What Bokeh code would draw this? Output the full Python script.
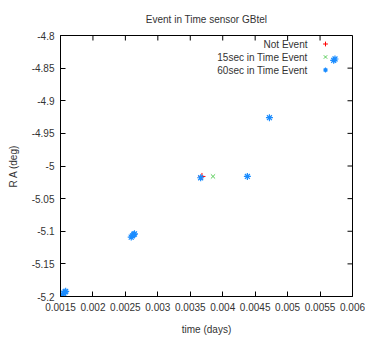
from bokeh.plotting import figure
from bokeh.models import (LinearAxis, FixedTicker, CustomJSTickFormatter, Range1d,
                          Legend, LegendItem, Label)
from bokeh.core.properties import value
from bokeh.embed import file_html
from bokeh.resources import INLINE

# data
not_event_t = [0.00368]
not_event_ra = [-5.016]
sec15_t = [0.00385]
sec15_ra = [-5.016]
sec60_t = [0.00153, 0.00155, 0.00157, 0.00158,
           0.00259, 0.00261, 0.00263, 0.00264,
           0.00366, 0.00438, 0.00472, 0.00571, 0.00573]
sec60_ra = [-5.197, -5.195, -5.193, -5.192,
            -5.109, -5.107, -5.105, -5.104,
            -5.018, -5.016, -4.926, -4.838, -4.836]
x_ticks = [0.0015, 0.002, 0.0025, 0.003, 0.0035, 0.004, 0.0045, 0.005, 0.0055, 0.006]
y_ticks = [-5.2, -5.15, -5.1, -5.05, -5.0, -4.95, -4.9, -4.85, -4.8]
series_names = ["Not Event", "15sec in Time Event", "60sec in Time Event"]

FONT = "Liberation Sans"
TXT = "#333333"
W, H = 365, 345
ML, MR, MT, MB = 60, 13, 35, 49
FW, FH = W - ML - MR, H - MT - MB

xmin, xmax = x_ticks[0], x_ticks[-1]
ymin, ymax = y_ticks[0], y_ticks[-1]

p = figure(width=W, height=H, output_backend="svg", toolbar_location=None,
           x_range=Range1d(xmin, xmax), y_range=Range1d(ymin, ymax),
           min_border_left=ML, min_border_right=MR, min_border_top=MT,
           min_border_bottom=MB, x_axis_type=None, y_axis_type=None,
           title="Event in Time sensor GBtel")
p.background_fill_color = "white"
p.border_fill_color = "white"
p.outline_line_color = "black"
p.outline_line_width = 1
p.grid.visible = False
p.title.align = "center"
p.title.text_font = FONT
p.title.text_font_size = "10px"
p.title.text_font_style = "normal"
p.title.text_color = TXT
p.title.standoff = 22

fmt = CustomJSTickFormatter(code="return String(parseFloat(tick.toFixed(5)));")

def make_axis(ticks, label):
    ax = LinearAxis(ticker=FixedTicker(ticks=ticks), formatter=fmt)
    ax.major_tick_in = 5
    ax.major_tick_out = 0
    ax.minor_tick_line_color = None
    ax.axis_line_color = "black"
    ax.major_tick_line_color = "black"
    ax.major_label_text_font = FONT
    ax.major_label_text_font_size = "10px"
    ax.major_label_text_color = TXT
    ax.major_label_standoff = 6
    ax.axis_label = label
    ax.axis_label_text_font = FONT
    ax.axis_label_text_font_size = "10px"
    ax.axis_label_text_font_style = "normal"
    ax.axis_label_text_color = TXT
    ax.axis_label_standoff = 10
    return ax

p.add_layout(make_axis(x_ticks, "time (days)"), "below")
p.add_layout(make_axis(y_ticks, "R A (deg)"), "left")

# mirrored tick marks on top and right edges (gnuplot style)
tl_y = 5 / FH * (ymax - ymin)
tl_x = 5 / FW * (xmax - xmin)
p.segment(x0=x_ticks, y0=[ymax] * len(x_ticks), x1=x_ticks,
          y1=[ymax - tl_y] * len(x_ticks), line_color="black", line_width=1)
p.segment(x0=[xmax] * len(y_ticks), y0=y_ticks, x1=[xmax - tl_x] * len(y_ticks),
          y1=y_ticks, line_color="black", line_width=1)

r1 = p.scatter(not_event_t, not_event_ra, marker="cross", size=7,
               line_color="#ff0000", line_width=1)
r2 = p.scatter(sec15_t, sec15_ra, marker="x", size=6,
               line_color="#55cc55", line_width=1)
r3 = p.scatter(sec60_t, sec60_ra, marker="asterisk", size=7,
               line_color="#1a8cff", line_width=1.2)

# legend: texts right-aligned, symbols to their right (gnuplot style)
for i, name in enumerate(series_names):
    p.add_layout(Label(x=307 - ML, y=FH - 9 - 13 * i, x_units="screen",
                       y_units="screen", text=name, text_font=FONT,
                       text_font_size="10px", text_color=TXT,
                       text_align="right", text_baseline="middle"))

legend = Legend(items=[LegendItem(label=value(""), renderers=[r])
                       for r in [r1, r2, r3]],
                location=(259, FH - 2 - 39), glyph_width=12, glyph_height=13,
                label_width=0, label_standoff=0, spacing=0, padding=0, margin=0,
                border_line_color=None, background_fill_alpha=0,
                label_text_font=FONT, label_text_font_size="10px")
p.add_layout(legend, "center")

open("out.html", "w").write(file_html(p, INLINE))
